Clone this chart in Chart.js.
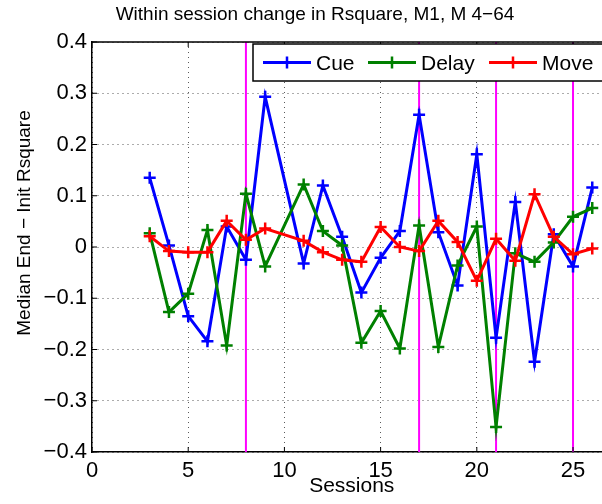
<!DOCTYPE html>
<html>
<head>
<meta charset="utf-8">
<script src="https://cdn.jsdelivr.net/npm/chart.js@4.4.1/dist/chart.umd.min.js"></script>
<style>
  html, body { margin: 0; padding: 0; overflow: hidden; background: #fff; }
  #wrap { position: absolute; left: 0; top: 0; width: 620px; height: 504px; }
</style>
</head>
<body>
<div id="wrap"><canvas id="rsq" width="620" height="504"></canvas></div>
<script>
// sessions 3..26, session 10 has no value
const sessions = [3, 4, 5, 6, 7, 8, 9, 11, 12, 13, 14, 15, 16, 17, 18, 19, 20, 21, 22, 23, 24, 25, 26];
const cue   = [0.135, 0.003, -0.135, -0.184, 0.040, -0.025, 0.293, -0.032, 0.120, 0.020, -0.089, -0.021, 0.031, 0.258, 0.029, -0.075, 0.181, -0.177, 0.088, -0.224, 0.025, -0.038, 0.116];
const delay = [0.027, -0.127, -0.091, 0.033, -0.192, 0.104, -0.038, 0.122, 0.031, 0.003, -0.187, -0.125, -0.198, 0.042, -0.195, -0.036, 0.040, -0.351, -0.012, -0.029, 0.009, 0.059, 0.076];
const move  = [0.021, -0.008, -0.010, -0.010, 0.051, 0.014, 0.036, 0.012, -0.010, -0.025, -0.029, 0.039, 0.000, -0.008, 0.051, 0.010, -0.066, 0.016, -0.027, 0.103, 0.020, -0.014, -0.003];
const breaks = [8, 17, 21, 25];
const xTicks = [0, 5, 10, 15, 20, 25];
const yTicks = [-0.4, -0.3, -0.2, -0.1, 0, 0.1, 0.2, 0.3, 0.4];

const FONT = 'Liberation Sans, Arial, sans-serif';

function pts(arr) {
  return sessions.map((s, i) => ({x: s, y: arr[i]}));
}

function series(label, data, color, order) {
  return {
    label: label,
    data: pts(data),
    borderColor: color,
    backgroundColor: color,
    borderWidth: 3,
    pointStyle: 'cross',
    pointRadius: 6,
    pointBorderWidth: 2.5,
    pointBorderColor: color,
    tension: 0,
    order: order
  };
}

const extras = {
  id: 'extras',
  beforeDatasetsDraw(chart) {
    const ctx = chart.ctx, xs = chart.scales.x, a = chart.chartArea;
    ctx.save();
    ctx.strokeStyle = '#ff00ff';
    ctx.lineWidth = 2;
    breaks.forEach(b => {
      const px = xs.getPixelForValue(b);
      ctx.beginPath();
      ctx.moveTo(px, a.top);
      ctx.lineTo(px, a.bottom);
      ctx.stroke();
    });
    ctx.restore();
  },
  afterDraw(chart) {
    const ctx = chart.ctx, xs = chart.scales.x, ys = chart.scales.y, a = chart.chartArea;
    ctx.save();
    // box and inward ticks
    ctx.strokeStyle = '#000';
    ctx.lineWidth = 1.5;
    ctx.beginPath();
    ctx.moveTo(a.left, a.top); ctx.lineTo(a.right, a.top); ctx.lineTo(a.right, a.bottom);
    ctx.stroke();
    ctx.lineWidth = 1;
    xTicks.forEach(v => {
      const px = xs.getPixelForValue(v);
      ctx.beginPath();
      ctx.moveTo(px, a.bottom); ctx.lineTo(px, a.bottom - 5);
      ctx.moveTo(px, a.top); ctx.lineTo(px, a.top + 5);
      ctx.stroke();
    });
    yTicks.forEach(v => {
      const py = ys.getPixelForValue(v);
      ctx.beginPath();
      ctx.moveTo(a.left, py); ctx.lineTo(a.left + 5, py);
      ctx.stroke();
    });

    // title
    ctx.fillStyle = '#000';
    ctx.font = '19px ' + FONT;
    ctx.textAlign = 'center';
    ctx.textBaseline = 'alphabetic';
    ctx.fillText('Within session change in Rsquare, M1, M 4\u221264', 315, 19.5);

    // y label
    ctx.save();
    ctx.translate(30, 223);
    ctx.rotate(-Math.PI / 2);
    ctx.fillText('Median End \u2212 Init Rsquare', 0, 0);
    ctx.restore();

    // legend
    ctx.fillStyle = '#fff';
    ctx.fillRect(253, 44, 400, 37);
    ctx.strokeStyle = '#000';
    ctx.lineWidth = 1.5;
    ctx.strokeRect(253, 44, 400, 37);
    const items = [
      {ds: chart.data.datasets[0], x: 263},
      {ds: chart.data.datasets[1], x: 368},
      {ds: chart.data.datasets[2], x: 489}
    ];
    items.forEach(it => {
      const c = it.ds.borderColor, ly = 62.5;
      ctx.strokeStyle = c;
      ctx.lineWidth = 3;
      ctx.beginPath();
      ctx.moveTo(it.x, ly); ctx.lineTo(it.x + 48, ly);
      ctx.stroke();
      ctx.lineWidth = 2.5;
      ctx.beginPath();
      ctx.moveTo(it.x + 24, ly - 6); ctx.lineTo(it.x + 24, ly + 6);
      ctx.moveTo(it.x + 18, ly); ctx.lineTo(it.x + 30, ly);
      ctx.stroke();
      ctx.fillStyle = '#000';
      ctx.font = '21px ' + FONT;
      ctx.textAlign = 'left';
      ctx.fillText(it.ds.label, it.x + 53, 69.5);
    });
    ctx.restore();
  }
};

new Chart(document.getElementById('rsq'), {
  type: 'line',
  data: {
    datasets: [
      series('Cue', cue, '#0000ff', 3),
      series('Delay', delay, '#008000', 2),
      series('Move', move, '#ff0000', 1)
    ]
  },
  options: {
    responsive: false,
    animation: false,
    layout: { padding: { top: 42, right: 6, left: 0, bottom: 0 } },
    plugins: { legend: { display: false }, tooltip: { enabled: false } },
    scales: {
      x: {
        type: 'linear',
        min: 0,
        max: 27,
        afterFit(s) { s.height = 52; },
        afterBuildTicks(s) { s.ticks = xTicks.map(v => ({value: v})); },
        ticks: { color: '#000', font: { family: FONT, size: 22 }, padding: 6, maxRotation: 0 },
        grid: { color: 'rgba(0,0,0,0.65)', drawTicks: false },
        border: { color: '#000', width: 1.5, dash: [1, 4] },
        title: { display: true, text: 'Sessions', color: '#000', font: { family: FONT, size: 21 }, padding: 5 }
      },
      y: {
        min: -0.4,
        max: 0.4,
        afterFit(s) { s.width = 92; },
        afterBuildTicks(s) { s.ticks = yTicks.map(v => ({value: v})); },
        ticks: {
          color: '#000',
          font: { family: FONT, size: 22 },
          padding: 5,
          callback: v => {
            const r = Math.round(v * 10) / 10;
            return r === 0 ? '0' : (r < 0 ? '\u2212' + Math.abs(r).toFixed(1) : r.toFixed(1));
          }
        },
        grid: { color: 'rgba(0,0,0,0.65)', drawTicks: false },
        border: { color: '#000', width: 1.5, dash: [1, 4] }
      }
    }
  },
  plugins: [extras]
});
</script>
</body>
</html>
